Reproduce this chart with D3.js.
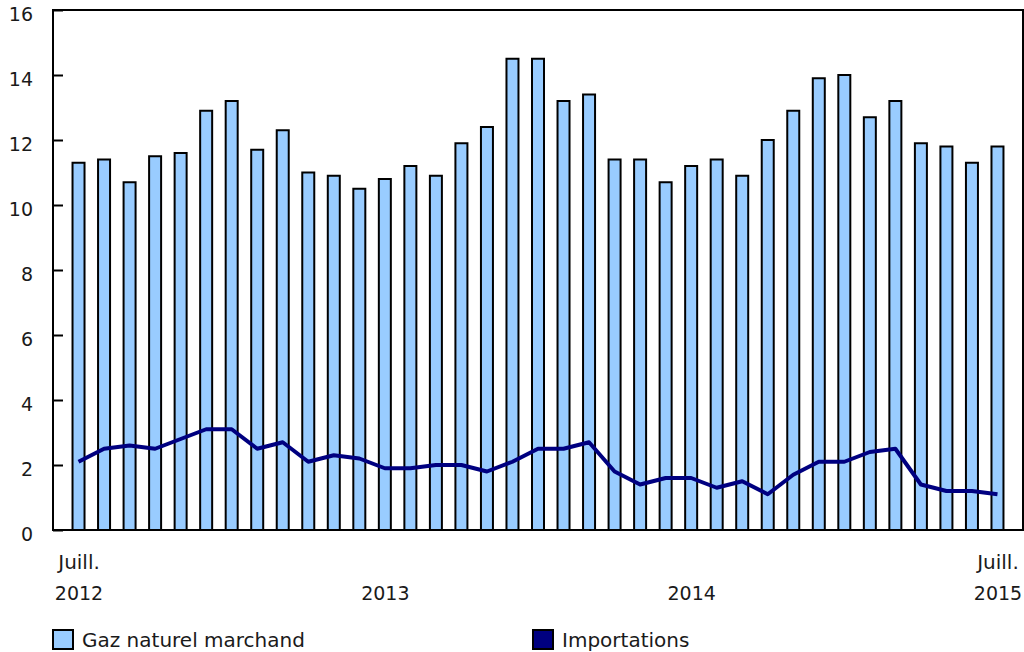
<!DOCTYPE html>
<html>
<head>
<meta charset="utf-8">
<script src="https://cdn.jsdelivr.net/npm/d3@7"></script>
<style>
  body { margin: 0; background: #fff; }
  svg text { font-family: "DejaVu Sans", Verdana, sans-serif; font-size: 19px; fill: #1a1a1a; }
  svg text.wide, svg tspan.wide { font-size: 20px; }
</style>
</head>
<body>
<svg width="1024" height="652"></svg>
<script>
// months Jul 2012 .. Jul 2015
const months = [
  '2012-07','2012-08','2012-09','2012-10','2012-11','2012-12',
  '2013-01','2013-02','2013-03','2013-04','2013-05','2013-06',
  '2013-07','2013-08','2013-09','2013-10','2013-11','2013-12',
  '2014-01','2014-02','2014-03','2014-04','2014-05','2014-06',
  '2014-07','2014-08','2014-09','2014-10','2014-11','2014-12',
  '2015-01','2015-02','2015-03','2015-04','2015-05','2015-06',
  '2015-07'
]

const gazMarchand = [
  11.3, 11.4, 10.7, 11.5, 11.6, 12.9, 13.2, 11.7, 12.3, 11.0, 10.9, 10.5,
  10.8, 11.2, 10.9, 11.9, 12.4, 14.5, 14.5, 13.2, 13.4, 11.4, 11.4, 10.7,
  11.2, 11.4, 10.9, 12.0, 12.9, 13.9, 14.0, 12.7, 13.2, 11.9, 11.8, 11.3,
  11.8
]

const importations = [
  2.1, 2.5, 2.6, 2.5, 2.8, 3.1, 3.1, 2.5, 2.7, 2.1, 2.3, 2.2,
  1.9, 1.9, 2.0, 2.0, 1.8, 2.1, 2.5, 2.5, 2.7, 1.8, 1.4, 1.6,
  1.6, 1.3, 1.5, 1.1, 1.7, 2.1, 2.1, 2.4, 2.5, 1.4, 1.2, 1.2,
  1.1
]

const yTicks = [0, 2, 4, 6, 8, 10, 12, 14, 16]
const xTickMonths = ['2012-07', '2013-07', '2014-07', '2015-07']
const xTickLines = [['Juill.', '2012'], ['', '2013'], ['', '2014'], ['Juill.', '2015']]
const seriesNames = ['Gaz naturel marchand', 'Importations']

const svg = d3.select('svg')
const margin = {top: 10, right: 1, bottom: 122, left: 53}
const width = +svg.attr('width')
const height = +svg.attr('height')
const innerWidth = width - margin.left - margin.right
const innerHeight = height - margin.top - margin.bottom

const barFill = '#99ccff'
const lineColor = '#000080'

const x = d3.scalePoint()
  .domain(months)
  .range([0, innerWidth])
  .padding(1)

const y = d3.scaleLinear()
  .domain([0, 16])
  .range([innerHeight, 0])

const g = svg.append('g')
  .attr('transform', `translate(${margin.left},${margin.top})`)

// bars
const barW = 12
g.selectAll('rect.bar').data(gazMarchand)
  .enter().append('rect')
    .attr('class', 'bar')
    .attr('x', (d, i) => x(months[i]) - barW / 2)
    .attr('y', d => y(d))
    .attr('width', barW)
    .attr('height', d => y(0) - y(d))
    .attr('fill', barFill)
    .attr('stroke', '#000')
    .attr('stroke-width', 2)

// line
const line = d3.line()
  .x((d, i) => x(months[i]))
  .y(d => y(d))

g.append('path')
  .datum(importations)
  .attr('d', line)
  .attr('fill', 'none')
  .attr('stroke', lineColor)
  .attr('stroke-width', 4)
  .attr('stroke-linejoin', 'round')

// frame
g.append('rect')
  .attr('width', innerWidth)
  .attr('height', innerHeight)
  .attr('fill', 'none')
  .attr('stroke', '#000')
  .attr('stroke-width', 2)

// y axis, ticks point inward
const yAxisG = g.append('g')
  .call(d3.axisLeft(y).tickValues(yTicks).tickSize(-10).tickPadding(20))
yAxisG.select('.domain').remove()
yAxisG.selectAll('.tick line').attr('stroke', '#000').attr('stroke-width', 2)
yAxisG.selectAll('.tick text').attr('dy', '0.53em').attr('fill', null)
yAxisG.attr('font-size', null).attr('font-family', null)

// x axis, two line labels
const xAxisG = g.append('g')
  .attr('transform', `translate(0,${innerHeight})`)
  .call(d3.axisBottom(x).tickValues(xTickMonths).tickSize(0))
xAxisG.select('.domain').remove()
xAxisG.attr('font-size', null).attr('font-family', null)
xAxisG.selectAll('.tick text')
  .attr('fill', null)
  .attr('y', 0)
  .attr('dy', null)
  .text(null)
  .each(function (d) {
    const lines = xTickLines[xTickMonths.indexOf(d)]
    const t = d3.select(this)
    if (lines[0]) t.append('tspan').attr('class', 'wide').attr('x', 0).attr('y', 39).text(lines[0])
    t.append('tspan').attr('x', 0).attr('y', 70).text(lines[1])
  })

// legend
const legendX = [53, 533]
const legendColors = [barFill, lineColor]
const legend = svg.selectAll('g.legend').data(seriesNames)
  .enter().append('g')
    .attr('class', 'legend')
    .attr('transform', (d, i) => `translate(${legendX[i]},630)`)

legend.append('rect')
  .attr('width', 20)
  .attr('height', 19)
  .attr('fill', (d, i) => legendColors[i])
  .attr('stroke', '#000')
  .attr('stroke-width', 2)

legend.append('text')
  .attr('class', 'wide')
  .attr('x', 29)
  .attr('y', 17)
  .text(d => d)
</script>
</body>
</html>
